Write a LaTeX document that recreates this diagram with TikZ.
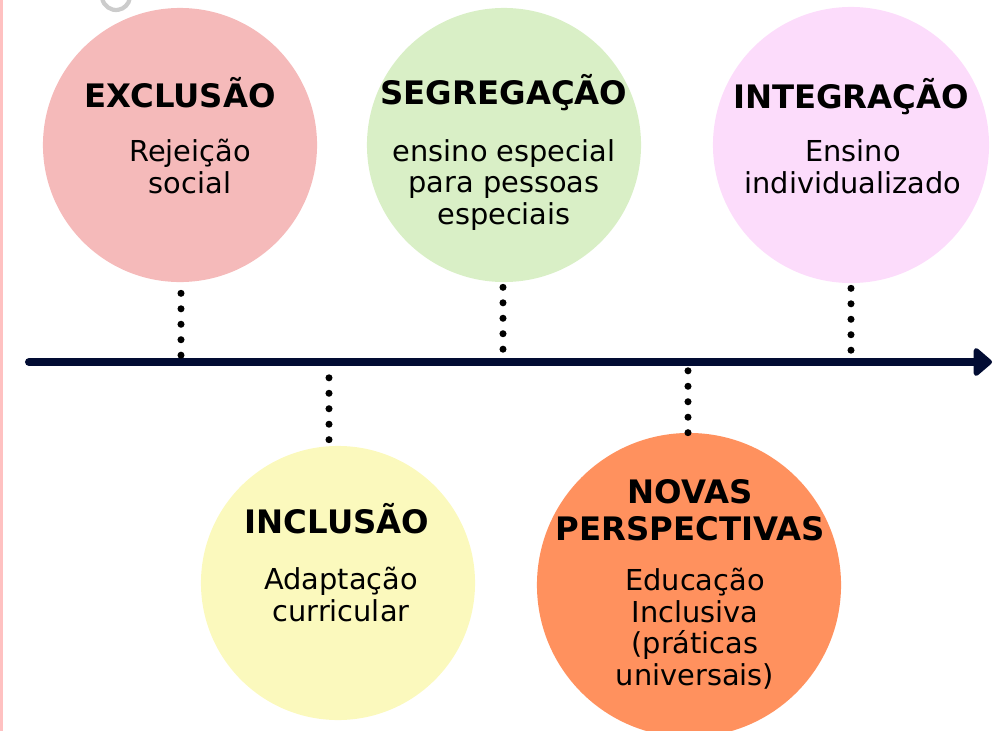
\documentclass[tikz,border=0pt]{standalone}
\usepackage{fontspec}
\setmainfont{DejaVu Sans}
\usetikzlibrary{arrows.meta}
\usetikzlibrary{calc}

\definecolor{exccol}{HTML}{F5BABA}
\definecolor{segcol}{HTML}{D9EFC6}
\definecolor{intcol}{HTML}{FCDCFB}
\definecolor{inccol}{HTML}{FBF9BD}
\definecolor{novcol}{HTML}{FF915E}
\definecolor{axiscol}{HTML}{020C33}
\definecolor{stripcol}{HTML}{FFC1C1}

\begin{document}
\begin{tikzpicture}
[x=0.025cm,y=-0.025cm,
  circledecorate/.style={shape=circle,inner sep=0pt,minimum size=#1*0.05cm},
  titledecorate/.style={font=\fontsize{23}{26.3}\selectfont\bfseries,align=center,anchor=base,inner sep=0pt},
  bodydecorate/.style={font=\fontsize{20.5}{22.4}\selectfont,align=center,anchor=base,inner sep=0pt},
  linedecorate/.style={line width=5pt,line cap=round,dash pattern=on 0pt off 11pt},
  axisdecorate/.style={line width=5.7pt,line cap=round,color=axiscol,-{Triangle[round,length=14pt,width=23pt]}}]
\useasboundingbox (0,0) rectangle (1002,731);
\clip (0,0) rectangle (1002,731);
\fill[stripcol] (0,0) rectangle (3,731);
\draw[black!20,line width=3pt] (116,-4) ++(170:14) arc[start angle=170,end angle=10,radius=14];
%% circles
\foreach \nodename/\x/\y/\r/\colour in {exc/180/145/137/exccol,
  seg/504/145/137/segcol, int/851/145/138/intcol,
  inc/338/583/137/inccol, nov/689/585/152/novcol}
{
  \node (\nodename) at (\x,\y) [circledecorate=\r,fill=\colour] {};
}
%% titles (anchored at the last baseline)
\foreach \nodename/\x/\y/\word in {exc/180/107/EXCLUSÃO,
  seg/504/104/SEGREGAÇÃO, int/851/108/INTEGRAÇÃO,
  inc/337/533/INCLUSÃO, nov/690/540/{NOVAS\\PERSPECTIVAS}}
{
  \node (\nodename-title) at (\x,\y) [titledecorate] {\word};
}
%% texts
\foreach \nodename/\x/\y/\words in {exc/190/193/{Rejeição\\social},
  seg/504/224/{ensino especial\\para pessoas\\especiais},
  int/853/193/{Ensino\\individualizado},
  inc/341/621/{Adaptação\\curricular},
  nov/695/685/{Educação\\Inclusiva\\(práticas\\universais)}}
{
  \node (\nodename-text) at (\x,\y) [bodydecorate] {\words};
}
%% time line
\coordinate (start) at (29,362);
\coordinate (end) at (992,362);
\draw[axisdecorate] (start) -- (end);
%% dotted links
\foreach \nodename/\side/\dx/\ga/\gb in {exc/south/1/11/6, seg/south/-1/5/11,
  int/south/0/5/11, inc/north/-9/6/10, nov/north/-1/0/8}
{
  \coordinate (\nodename-axis) at ([xshift=\dx*0.025cm]\nodename |- start);
  \draw[linedecorate,shorten <=\ga*0.025cm,shorten >=\gb*0.025cm]
    (\nodename-axis |- \nodename.\side) -- (\nodename-axis);
}
\end{tikzpicture}
\end{document}
